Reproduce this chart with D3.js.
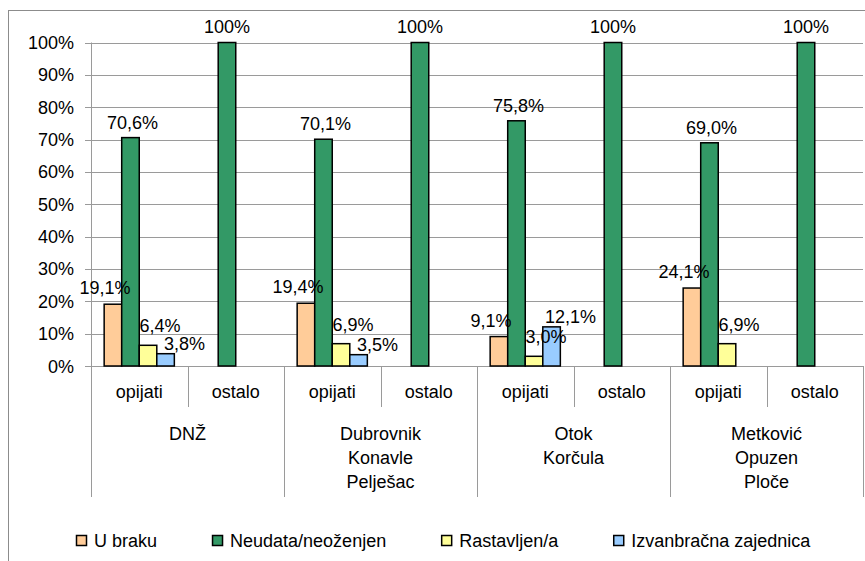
<!DOCTYPE html>
<html>
<head>
<meta charset="utf-8">
<script src="https://cdn.jsdelivr.net/npm/d3@7"></script>
<style>
  body { margin: 0; background: #fff; }
  text { font-family: "Liberation Sans", Arial, sans-serif; fill: #000; }
</style>
</head>
<body>
<div id="chart"></div>
<script>
// regions (outer category level) and their line breaks
const regions = ["DNŽ", "Dubrovnik\nKonavle\nPelješac", "Otok\nKorčula", "Metković\nOpuzen\nPloče"];
const subcats = ["opijati", "ostalo"];
const seriesNames = ["U braku", "Neudata/neoženjen", "Rastavljen/a", "Izvanbračna zajednica"];
const seriesColors = ["#FFCC99", "#339966", "#FFFF99", "#99CCFF"];

// values per region, opijati / ostalo, in series order (null = no bar)
const opijatiValues = [
    [19.1, 70.6, 6.4, 3.8],
    [19.4, 70.1, 6.9, 3.5],
    [9.1, 75.8, 3.0, 12.1],
    [24.1, 69.0, 6.9, null]
];
const ostaloValues = [
    [null, 100, null, null],
    [null, 100, null, null],
    [null, 100, null, null],
    [null, 100, null, null]
];
const yTicks = [0, 10, 20, 30, 40, 50, 60, 70, 80, 90, 100];

const width = 865, height = 561;
const plotLeft = 91, plotRight = 863, plotTop = 42.5, plotBottom = 366;

const svg = d3.select("#chart").append("svg")
    .attr("width", width)
    .attr("height", height);

//outer chart frame (right/bottom edges fall outside the picture)
svg.append("rect")
    .attr("x", 8.5).attr("y", 10.5)
    .attr("width", 900).attr("height", 600)
    .attr("fill", "none")
    .attr("stroke", "#8c8c8c");

const y = d3.scaleLinear().domain([0, 100]).range([plotBottom, plotTop]);
const x0 = d3.scaleBand().domain(d3.range(regions.length)).range([plotLeft, plotRight]);
const x1 = d3.scaleBand().domain(subcats).range([0, x0.bandwidth()]);
const x2 = d3.scaleBand().domain(d3.range(seriesNames.length))
    .range([0, x1.bandwidth()])
    .paddingOuter(0.75);

// gridlines
svg.append("g")
    .selectAll("line")
    .data(yTicks)
    .join("line")
    .attr("x1", plotLeft - 6).attr("x2", plotRight)
    .attr("y1", d => Math.round(y(d)) + 0.5)
    .attr("y2", d => Math.round(y(d)) + 0.5)
    .attr("stroke", "#9a9a9a");

// y axis line
svg.append("line")
    .attr("x1", plotLeft + 0.5).attr("x2", plotLeft + 0.5)
    .attr("y1", plotTop).attr("y2", plotBottom)
    .attr("stroke", "#9a9a9a");

svg.append("g")
    .selectAll("text")
    .data(yTicks)
    .join("text")
    .attr("x", plotLeft - 17)
    .attr("y", d => y(d) + 6.5)
    .attr("text-anchor", "end")
    .attr("font-size", 18)
    .text(d => d + "%");

// flatten data
const fmt = v => v === 100 ? "100%" : v.toFixed(1).replace(".", ",") + "%";
const bars = [];
regions.forEach((r, ri) => {
    [opijatiValues[ri], ostaloValues[ri]].forEach((vals, si) => {
        vals.forEach((v, k) => {
            if (v !== null) bars.push({ ri, sub: subcats[si], k, v });
        });
    });
});
const barX = d => x0(d.ri) + x1(d.sub) + x2(d.k);

svg.append("g")
    .selectAll("rect")
    .data(bars)
    .join("rect")
    .attr("x", d => barX(d))
    .attr("y", d => y(d.v))
    .attr("width", x2.bandwidth())
    .attr("height", d => plotBottom - y(d.v))
    .attr("fill", d => seriesColors[d.k])
    .attr("stroke", "#000")
    .attr("stroke-width", 1.5);

// data labels (excel nudges them around a bit per series)
const labelShift = [-8, 2, 12, 19];
const labelLift = [10, 9, 13, 4];
svg.append("g")
    .selectAll("text")
    .data(bars)
    .join("text")
    .attr("x", d => barX(d) + x2.bandwidth() / 2 + (d.v === 100 ? 0 : labelShift[d.k]))
    .attr("y", d => y(d.v) - (d.v === 100 ? 10 : labelLift[d.k]))
    .attr("text-anchor", "middle")
    .attr("font-size", 18)
    .text(d => fmt(d.v));

// category axis: subcategory separators and labels
const sepG = svg.append("g").attr("stroke", "#9a9a9a");
regions.forEach((r, ri) => {
    const gx = x0(ri);
    sepG.append("line")
        .attr("x1", Math.round(gx) + 0.5).attr("x2", Math.round(gx) + 0.5)
        .attr("y1", plotBottom).attr("y2", 497);
    sepG.append("line")
        .attr("x1", Math.round(gx + x1.bandwidth()) + 0.5).attr("x2", Math.round(gx + x1.bandwidth()) + 0.5)
        .attr("y1", plotBottom).attr("y2", 407);
    subcats.forEach(s => {
        svg.append("text")
            .attr("x", gx + x1(s) + x1.bandwidth() / 2)
            .attr("y", 398)
            .attr("text-anchor", "middle")
            .attr("font-size", 18)
            .text(s);
    });
    const t = svg.append("text")
        .attr("x", gx + x0.bandwidth() / 2)
        .attr("y", 440)
        .attr("text-anchor", "middle")
        .attr("font-size", 18);
    r.split("\n").forEach((line, li) => {
        t.append("tspan")
            .attr("x", gx + x0.bandwidth() / 2)
            .attr("y", 440 + li * 24)
            .text(line);
    });
});
sepG.append("line")
    .attr("x1", plotRight + 0.5).attr("x2", plotRight + 0.5)
    .attr("y1", plotBottom).attr("y2", 497);

// legend
const legend = svg.append("g");
let lx = 76;
seriesNames.forEach((name, k) => {
    legend.append("rect")
        .attr("x", lx + 0.5).attr("y", 535.5)
        .attr("width", 10).attr("height", 10)
        .attr("fill", seriesColors[k])
        .attr("stroke", "#000")
        .attr("stroke-width", 1.5);
    const txt = legend.append("text")
        .attr("x", lx + 18)
        .attr("y", 547)
        .attr("font-size", 18)
        .text(name);
    lx += 18 + txt.node().getComputedTextLength() + 55;
});
</script>
</body>
</html>
